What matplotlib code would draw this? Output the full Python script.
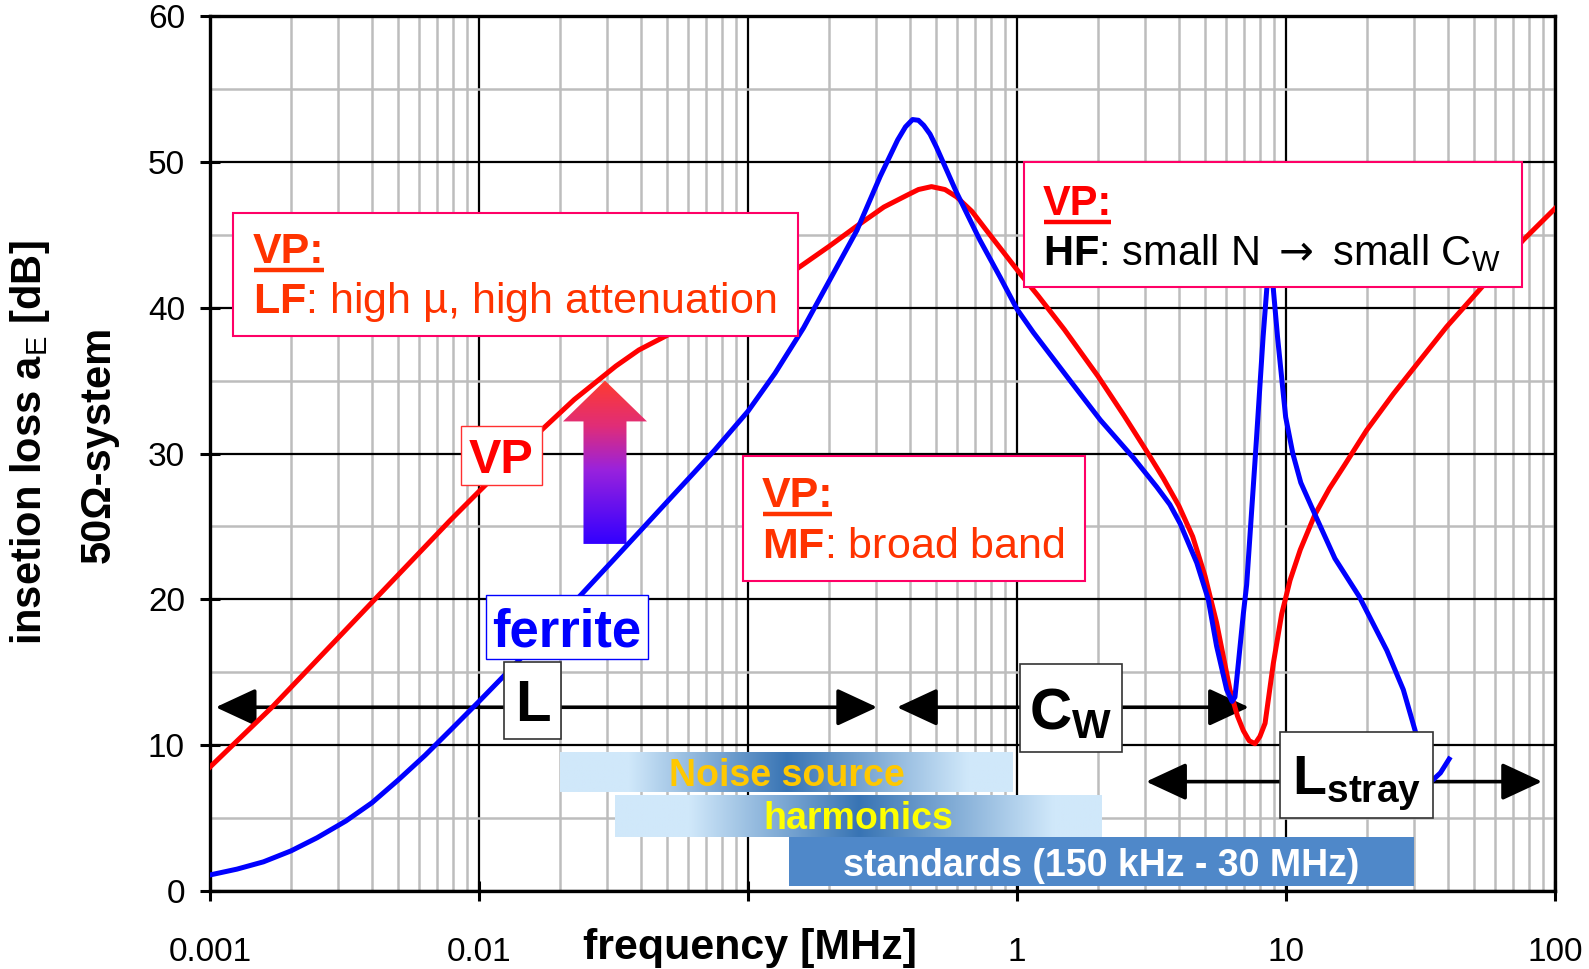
import numpy as np
import matplotlib
matplotlib.use('Agg')
import matplotlib.pyplot as plt
from matplotlib.patches import Rectangle, Polygon, FancyArrowPatch
from matplotlib.colors import LinearSegmentedColormap
from matplotlib.lines import Line2D
from matplotlib.ticker import FixedLocator, LogLocator, MultipleLocator, NullFormatter
from matplotlib.transforms import IdentityTransform

plt.rcParams['font.family'] = ['Liberation Sans', 'DejaVu Sans']
plt.rcParams['mathtext.fontset'] = 'custom'
plt.rcParams['mathtext.rm'] = 'Liberation Sans'
plt.rcParams['mathtext.bf'] = 'Liberation Sans:bold'
plt.rcParams['mathtext.it'] = 'Liberation Sans:italic'
plt.rcParams['mathtext.sf'] = 'DejaVu Sans'

# insertion loss (frequency in MHz, loss in dB)
vp_freq = [0.001, 0.0017, 0.0041, 0.0078, 0.01, 0.01706, 0.0226, 0.0323, 0.0393, 0.0488,
           0.08, 0.153, 0.2, 0.254, 0.32, 0.389, 0.43, 0.481, 0.54, 0.596,
           0.68, 0.77, 0.865, 1.03, 1.2, 1.5, 2.0, 2.5, 3.0, 3.5,
           4.0, 4.5, 5.0, 5.52, 6.19, 6.6, 6.94, 7.3, 7.67, 8.0,
           8.36, 8.97, 9.64, 10.35, 11.3, 12.8, 14.5, 16.5, 19.95, 25.1,
           31.5, 39.6, 51.1, 76.3, 100]
vp_loss = [8.5, 12.6, 20.0, 25.4, 27.4, 31.6, 33.7, 36.0, 37.1, 38.0,
           40.0, 42.7, 44.2, 45.6, 46.9, 47.7, 48.1, 48.3, 48.1, 47.6,
           46.6, 45.3, 44.1, 42.3, 40.8, 38.5, 35.3, 32.6, 30.3, 28.3,
           26.4, 24.3, 21.6, 18.4, 13.8, 12.0, 11.0, 10.3, 10.1, 10.6,
           11.5, 15.6, 19.0, 21.3, 23.4, 25.8, 27.6, 29.2, 31.6, 34.1,
           36.4, 38.7, 41.0, 44.65, 46.8]

ferrite_freq = [0.001, 0.00126, 0.00158, 0.002, 0.0025, 0.0032, 0.004, 0.005, 0.0063, 0.0079,
                0.01, 0.0126, 0.0158, 0.02, 0.0242, 0.0316, 0.0398, 0.0501, 0.0631, 0.0753,
                0.1, 0.126, 0.1607, 0.2, 0.254, 0.31, 0.36, 0.385, 0.409, 0.43,
                0.45, 0.475, 0.502, 0.596, 0.727, 0.865, 0.93, 1.0, 1.15, 1.53,
                2.04, 2.71, 3.31, 3.7, 4.04, 4.66, 5.14, 5.52, 6.02, 6.3,
                6.46, 6.65, 6.94, 7.14, 7.71, 8.22, 8.5, 8.7, 8.95, 9.3,
                9.97, 10.6, 11.35, 12.9, 15.2, 18.7, 23.7, 27.3, 30.2, 33.0,
                35.1, 37.5, 40.4]
ferrite_loss = [1.1, 1.5, 2.0, 2.75, 3.65, 4.8, 6.05, 7.6, 9.3, 11.1,
                13.0, 14.9, 16.8, 18.75, 20.4, 22.7, 24.7, 26.7, 28.7, 30.25,
                32.9, 35.5, 38.6, 41.8, 45.3, 49.0, 51.5, 52.4, 52.9, 52.85,
                52.5, 51.9, 51.0, 47.9, 44.65, 42.1, 41.0, 39.9, 38.3, 35.3,
                32.3, 29.7, 27.7, 26.5, 25.2, 22.5, 20.0, 16.8, 13.8, 13.0,
                13.3, 15.6, 19.0, 21.0, 30.1, 38.0, 41.5, 42.5, 41.5, 38.0,
                32.5, 30.0, 28.0, 25.7, 22.8, 20.2, 16.5, 13.8, 11.0, 8.3,
                7.6, 8.1, 9.05]

# frequency ranges drawn as bars at the bottom
band_labels = ['Noise source', 'harmonics', 'standards (150 kHz - 30 MHz)']
band_from = [0.02, 0.032, 0.142]
band_to = [0.97, 2.08, 30.0]
band_low = [6.77, 3.72, 0.36]
band_high = [9.55, 6.65, 3.68]

# ranges where one parasitic element dominates
range_labels = ['L', r'C$_\mathbf{W}$', r'L$_\mathbf{stray}$']
range_from = [0.00105, 0.358, 3.02]
range_to = [0.302, 7.28, 89.5]
range_level = [12.6, 12.6, 7.5]

xticks = [0.001, 0.01, 0.1, 1, 10, 100]
xtick_labels = ['0.001', '0.01', '', '1', '10', '100']
yticks = [0, 10, 20, 30, 40, 50, 60]

W, H = 1589, 969
fig = plt.figure(figsize=(W / 100, H / 100), dpi=100)
ax = fig.add_axes([210 / W, 78 / H, 1345 / W, 875 / H])
ax.set_xscale('log')
ax.set_xlim(1e-3, 1e2)
ax.set_ylim(0, 60)


def fx(f):
    # frequency -> axes fraction
    return (np.log10(f) + 3) / 5


# grid
ax.set_axisbelow(True)
ax.xaxis.set_major_locator(FixedLocator(xticks))
ax.set_xticklabels(xtick_labels)
ax.xaxis.set_minor_locator(LogLocator(base=10, subs=np.arange(2, 10), numticks=20))
ax.xaxis.set_minor_formatter(NullFormatter())
ax.set_yticks(yticks)
ax.yaxis.set_minor_locator(MultipleLocator(5))
ax.grid(which='major', color='black', lw=1.6)
ax.grid(which='minor', color='#bdbdbd', lw=1.8)
ax.tick_params(which='major', direction='inout', length=14, width=2.2, labelsize=24)
ax.tick_params(which='minor', length=0)
ax.tick_params(axis='x', pad=26)
ax.tick_params(axis='y', pad=11)
for s in ax.spines.values():
    s.set_linewidth(2.4)

ax.set_xlabel('frequency [MHz]', fontsize=31, fontweight='bold', va='baseline')
ax.xaxis.set_label_coords(0.4015, -0.0777)
fig.text(30 / W, 1 - 443 / H, r'insetion loss a$_\mathrm{E}$ [dB]', rotation=90,
         ha='center', va='center', fontsize=30, fontweight='bold')
fig.text(99 / W, 1 - 444 / H, '50Ω-system', rotation=90,
         ha='center', va='center', fontsize=30, fontweight='bold')

# bottom bars
light, dark = '#d0e8fa', '#3874b4'
band_cmap = LinearSegmentedColormap.from_list(
    'band', [(0, light), (0.15, light), (0.5, dark), (0.9, light), (1, light)])
band_text = ['#ffc800', '#ffff00', 'white']
ramp = np.linspace(0, 1, 256).reshape(1, -1)
for i in range(3):
    if i < 2:
        ax.imshow(ramp, cmap=band_cmap, extent=[fx(band_from[i]), fx(band_to[i]), band_low[i], band_high[i]],
                  transform=ax.get_yaxis_transform(), aspect='auto', interpolation='bilinear', zorder=2)
    else:
        ax.add_patch(Rectangle((band_from[i], band_low[i]), band_to[i] - band_from[i],
                               band_high[i] - band_low[i], color='#4f88c9', lw=0, zorder=2))
    ax.text(np.sqrt(band_from[i] * band_to[i]), (band_low[i] + band_high[i]) / 2, band_labels[i],
            ha='center', va='center_baseline', fontsize=27, fontweight='bold', color=band_text[i], zorder=3)

# range arrows
for i in range(3):
    ax.add_patch(FancyArrowPatch((range_from[i], range_level[i]), (range_to[i], range_level[i]),
                                 arrowstyle='<|-|>,head_length=1.25,head_width=0.58', mutation_scale=20,
                                 lw=2.6, color='black', shrinkA=0, shrinkB=0, zorder=3))

# gradient arrow (improvement ferrite -> VP)
arrow_f = 0.0294
arrow_base, arrow_neck, arrow_tip = 23.8, 32.2, 35.0
cx = fx(arrow_f)
sw, hw = 21.5 / 1345, 42 / 1345
poly = Polygon([(cx - sw, arrow_base), (cx + sw, arrow_base), (cx + sw, arrow_neck), (cx + hw, arrow_neck),
                (cx, arrow_tip), (cx - hw, arrow_neck), (cx - sw, arrow_neck)], closed=True,
               transform=ax.get_yaxis_transform(), facecolor='none', edgecolor='none')
ax.add_patch(poly)
arrow_cmap = LinearSegmentedColormap.from_list(
    'arr', [(0, '#3300ff'), (0.45, '#9922dd'), (0.72, '#e02d78'), (1, '#ff3b2f')])
im = ax.imshow(np.linspace(0, 1, 256).reshape(-1, 1), cmap=arrow_cmap, origin='lower',
               extent=[cx - hw, cx + hw, arrow_base, arrow_tip], transform=ax.get_yaxis_transform(),
               aspect='auto', zorder=3)
im.set_clip_path(poly)

# curves
ax.plot(vp_freq, vp_loss, color='#ff0000', lw=3.6, zorder=4, solid_joinstyle='round')
ax.plot(ferrite_freq, ferrite_loss, color='#0000ff', lw=3.6, zorder=4, solid_joinstyle='round')


def box(f0, f1, d0, d1, edge, lw):
    ax.add_patch(Rectangle((f0, d0), f1 - f0, d1 - d0, facecolor='white', edgecolor=edge, lw=lw, zorder=6))


def line(f0, d1, dx, dy, s, color, size=30, weight='normal'):
    return ax.annotate(s, xy=(f0, d1), xytext=(dx, dy), textcoords='offset pixels', ha='left',
                       va='baseline', color=color, fontsize=size, fontweight=weight, zorder=7)


def centered(f0, f1, d0, d1, s, color, size):
    ax.text(np.sqrt(f0 * f1), (d0 + d1) / 2, s, ha='center', va='center_baseline', color=color,
            fontsize=size, fontweight='bold', zorder=7)


heads = []
# LF box
box(0.001218, 0.1534, 38.06, 46.5, '#ff0066', 1.5)
heads.append((line(0.001218, 46.5, 20, -50, 'VP:', '#ff3300', 31, 'bold'), 0.001218, 46.5, -50, '#ff3300'))
line(0.001218, 46.5, 20, -100, r'$\mathbf{LF}$: high µ, high attenuation', '#ff3300', 31)
# MF box
box(0.0958, 1.79, 21.26, 29.84, '#ff0066', 1.5)
heads.append((line(0.0958, 29.84, 19, -51, 'VP:', '#ff3300', 31, 'bold'), 0.0958, 29.84, -51, '#ff3300'))
line(0.0958, 29.84, 19, -102, r'$\mathbf{MF}$: broad band', '#ff3300', 31)
# HF box
box(1.062, 75.4, 41.43, 50.0, '#ff0066', 1.5)
heads.append((line(1.062, 50.0, 19, -53, 'VP:', '#ff0000', 30, 'bold'), 1.062, 50.0, -53, '#ff0000'))
line(1.062, 50.0, 19, -103, r'$\mathbf{HF}$: small N $\mathsf{\rightarrow}$ small C$_\mathrm{W}$', 'black')

# small labels
box(0.00857, 0.01715, 27.85, 31.89, '#ff3030', 1.0)
centered(0.00857, 0.01715, 27.85, 31.89, 'VP', '#ff0000', 35)
box(0.01062, 0.0425, 15.91, 20.3, '#0000ff', 1.0)
centered(0.01062, 0.0425, 15.91, 20.3, 'ferrite', '#0000ff', 38)
range_boxes = [(0.01239, 0.0202, 10.43, 15.71), (1.026, 2.457, 9.53, 15.57), (9.50, 35.2, 5.01, 10.91)]
range_sizes = [42, 42, 40]
for i, (f0, f1, d0, d1) in enumerate(range_boxes):
    box(f0, f1, d0, d1, '#333333', 1.2)
    centered(f0, f1, d0, d1, range_labels[i], 'black', range_sizes[i])

# underline the "VP:" headings
fig.canvas.draw()
r = fig.canvas.get_renderer()
for t, f0, d1, dy, c in heads:
    bb = t.get_window_extent(r)
    base = ax.transData.transform((f0, d1))[1] + dy
    fig.add_artist(Line2D([bb.x0 + 1, bb.x1 - 1], [base - 7, base - 7], transform=IdentityTransform(),
                          color=c, lw=3.2, solid_capstyle='butt', zorder=8))

ax.set_xlim(1e-3, 1e2)
ax.set_ylim(0, 60)
fig.savefig('out.png', dpi=100)
